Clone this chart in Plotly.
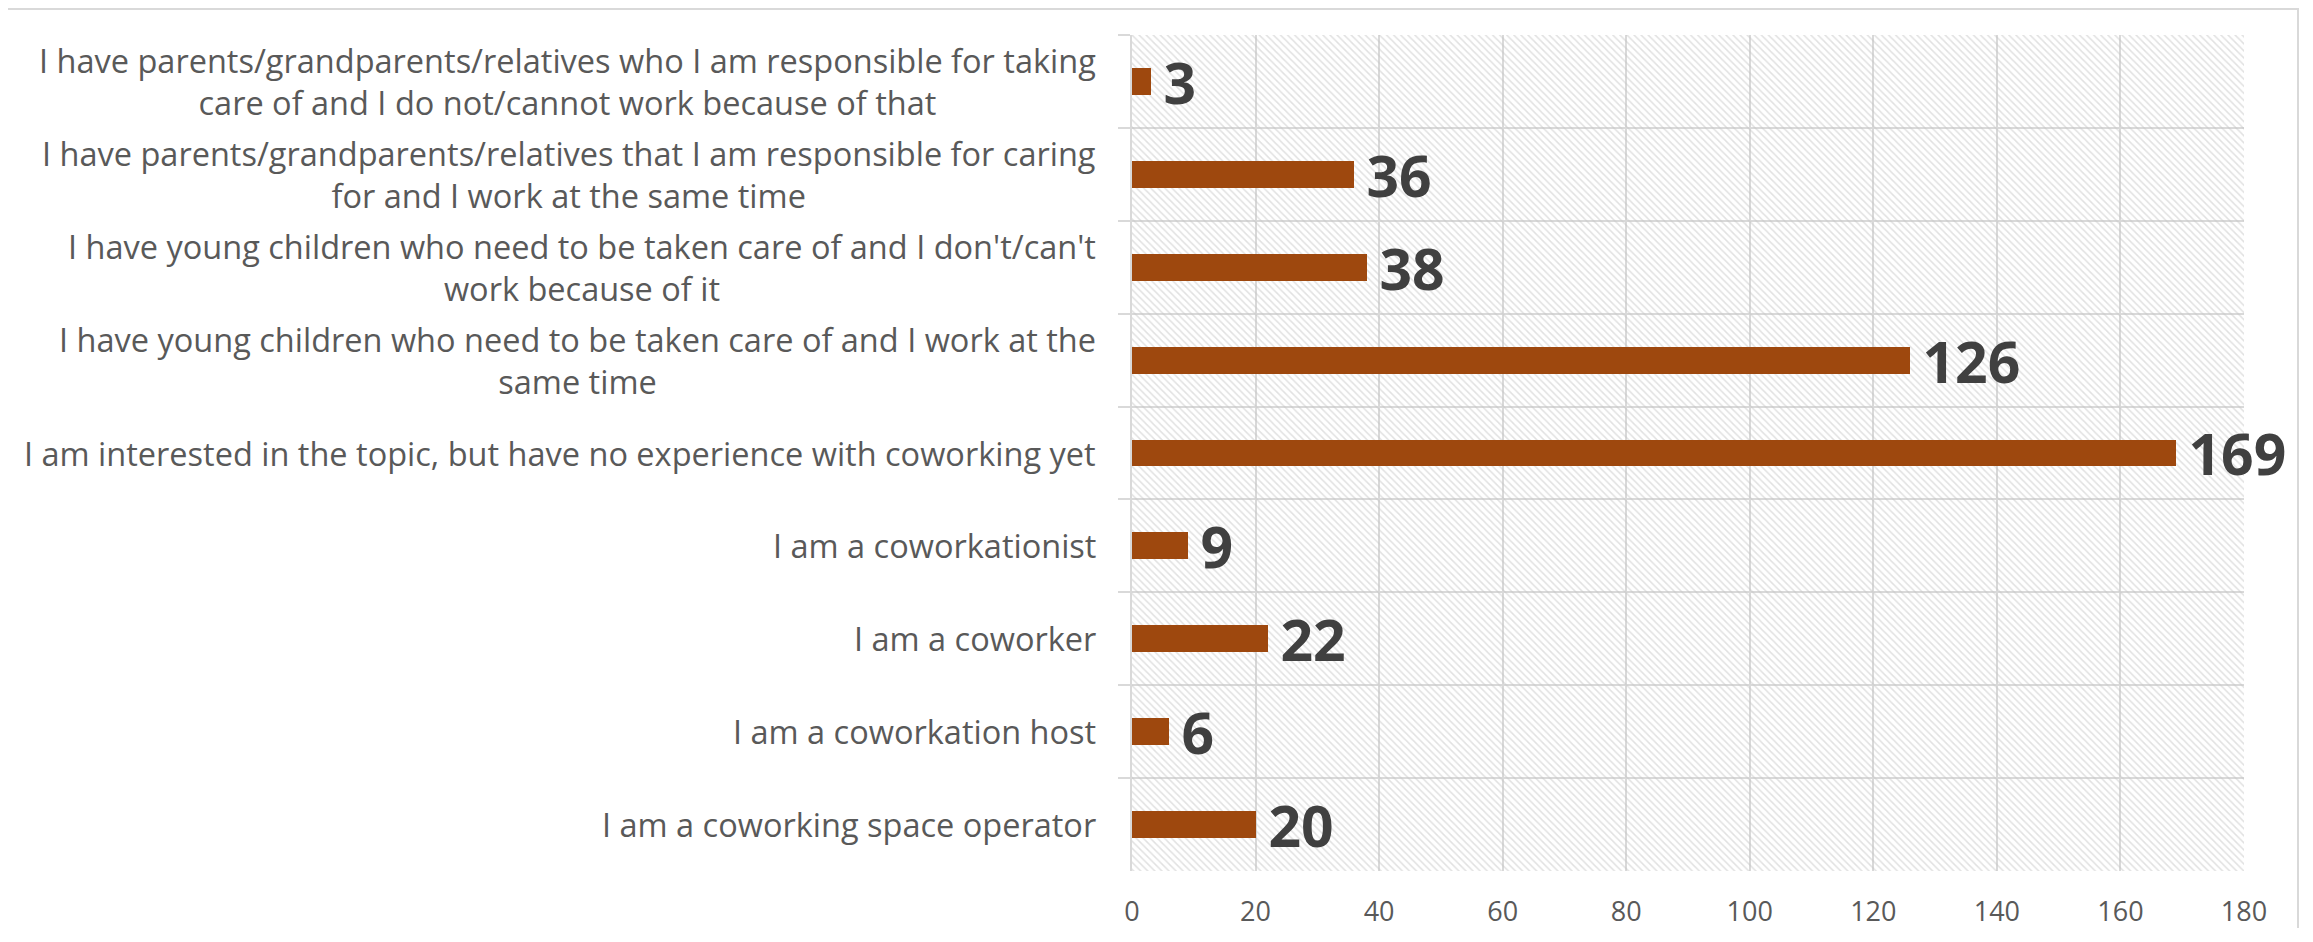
import plotly.graph_objects as go

# カテゴリ（上から順）
CATEGORIES = [
    "I have parents/grandparents/relatives who I am responsible for taking<br>care of and I do not/cannot work because of that",
    "I have parents/grandparents/relatives that I am responsible for caring<br>for and I work at the same time",
    "I have young children who need to be taken care of and I don't/can't<br>work because of it",
    "I have young children who need to be taken care of and I work at the<br>same time",
    "I am interested in the topic, but have no experience with coworking yet",
    "I am a coworkationist",
    "I am a coworker",
    "I am a coworkation host",
    "I am a coworking space operator",
]
COUNTS = [3, 36, 38, 126, 169, 9, 22, 6, 20]
X_TICKS = [0, 20, 40, 60, 80, 100, 120, 140, 160, 180]

BAR_COLOR = "#9E480E"
GRID_COLOR = "#D9D9D9"
FONT = "Open Sans"

# ページの余白（8px）を差し引いてスクロールバーが出ないサイズにする
W, H = 2297, 920
ML, MR, MT, MB = 1124, 61, 27, 57
PW, PH = W - ML - MR, H - MT - MB

fig = go.Figure()

# 背景の斜線パターン（下の軸、透明地で線だけ）
fig.add_trace(go.Bar(
    x=[1], y=[0.5], width=[1], base=[0], orientation="h",
    marker=dict(color="rgba(0,0,0,0)", line=dict(width=0),
                pattern=dict(shape="\\", fgcolor="#C4C4C4", bgcolor="rgba(0,0,0,0)",
                             size=5, solidity=0.3)),
    hoverinfo="skip", showlegend=False,
    xaxis="x", yaxis="y",
))

# データ本体（重ねた軸）
fig.add_trace(go.Bar(
    x=COUNTS, y=CATEGORIES, orientation="h",
    marker=dict(color=BAR_COLOR, line=dict(width=0)),
    width=0.29,
    text=COUNTS, texttemplate="\u2009%{text}", textposition="outside",
    constraintext="none",
    textfont=dict(family=FONT, size=57, color="#404040", weight="bold"),
    cliponaxis=False, showlegend=False,
    xaxis="x2", yaxis="y2",
))

# 折り返しラベルは中央揃えで注釈として配置
for cat in CATEGORIES:
    fig.add_annotation(
        x=0, y=cat, xref="paper", yref="y2",
        text=cat, showarrow=False, xanchor="right", yanchor="middle",
        align="center", xshift=-34,
        font=dict(family=FONT, size=32.5, color="#595959"),
    )

# 外枠（上と右だけ見える）
fig.add_shape(type="rect", xref="paper", yref="paper",
              x0=-(ML + 20) / PW, x1=(2290 - ML) / PW,
              y0=-(MB + 20) / PH, y1=1 + (MT - 1) / PH,
              line=dict(color=GRID_COLOR, width=2), fillcolor="rgba(0,0,0,0)",
              layer="above")

fig.update_layout(
    width=W, height=H,
    margin=dict(l=ML, r=MR, t=MT, b=MB, autoexpand=False),
    paper_bgcolor="white", plot_bgcolor="white",
    bargap=0,
    font=dict(family=FONT, color="#595959"),
    xaxis=dict(range=[0, 1], visible=False, fixedrange=True, automargin=False),
    yaxis=dict(range=[0, 1], visible=False, fixedrange=True, automargin=False),
    xaxis2=dict(
        overlaying="x", anchor="y2", range=[0, 180], automargin=False,
        tickvals=X_TICKS, showgrid=True, gridcolor=GRID_COLOR, gridwidth=2,
        zeroline=False, showline=False, ticks="", ticklabelstandoff=22,
        tickfont=dict(family=FONT, size=27, color="#595959"),
    ),
    yaxis2=dict(
        overlaying="y", anchor="x2", autorange="reversed", automargin=False,
        categoryorder="array", categoryarray=CATEGORIES,
        tickson="boundaries", showgrid=True, gridcolor=GRID_COLOR, gridwidth=2,
        ticks="outside", ticklen=12, tickcolor=GRID_COLOR, tickwidth=2,
        showticklabels=False, showline=True, linecolor=GRID_COLOR, linewidth=2,
        mirror=False, zeroline=False,
    ),
)

fig.write_html("out.html")
